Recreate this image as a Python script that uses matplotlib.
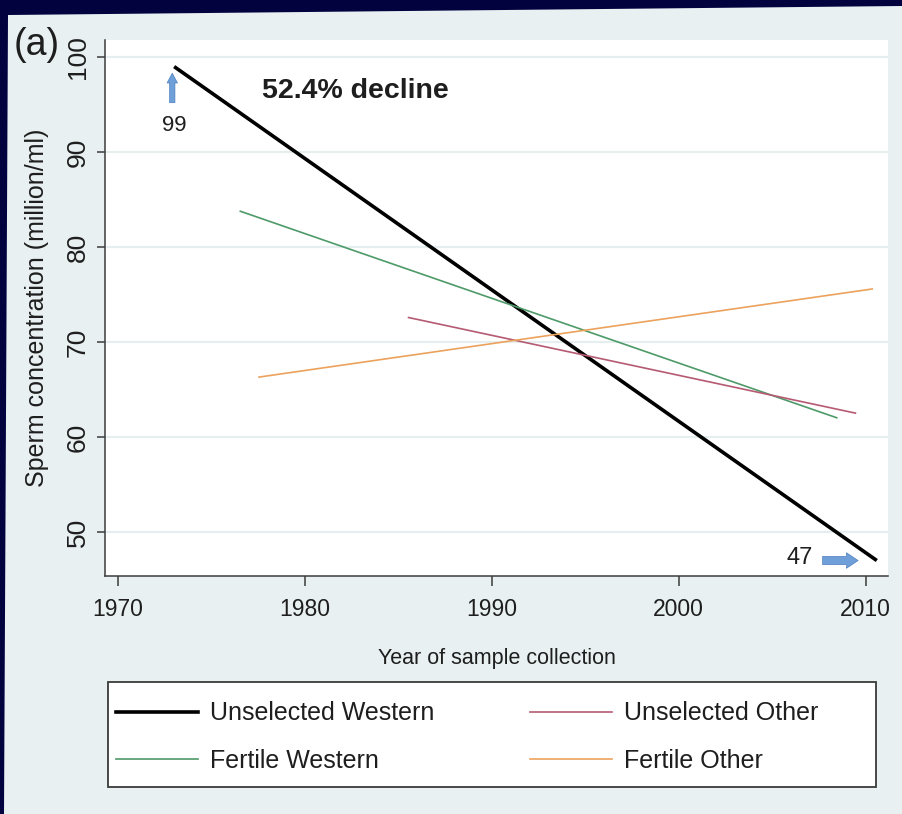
import matplotlib
matplotlib.use("Agg")
import matplotlib.pyplot as plt
from matplotlib import font_manager
from matplotlib.patches import Rectangle, Polygon
from matplotlib.lines import Line2D

# ── Data ──────────────────────────────────────────────────────────────────────
series_names = ["Unselected Western", "Fertile Western", "Unselected Other", "Fertile Other"]
series_years = [
    [1973.0, 2010.6],   # Unselected Western
    [1976.5, 2008.5],   # Fertile Western
    [1985.5, 2009.5],   # Unselected Other
    [1977.5, 2010.4],   # Fertile Other
]
series_conc = [
    [99.0, 47.0],
    [83.8, 62.0],
    [72.6, 62.5],
    [66.3, 75.6],
]
x_ticks = [1970, 1980, 1990, 2000, 2010]
y_ticks = [50, 60, 70, 80, 90, 100]
start_label = "99"
end_label = "47"
decline_label = "52.4% decline"

# ── Style ─────────────────────────────────────────────────────────────────────
colors = ["#000000", "#4e9a68", "#b55a72", "#eca25c"]
widths = [2.6, 1.2, 1.2, 1.2]
PANEL_BG = "#e8f0f2"
GRID_C = "#e6eef0"
TEXT_C = "#1e1e1e"
ARROW_C = "#6f9fd8"

W, H = 902, 814
installed = {f.name for f in font_manager.fontManager.ttflist}
if "Liberation Sans Narrow" in installed:
    HFONT = "Liberation Sans Narrow"
    xtick_fs, xlab_fs, leg_fs = 18.5, 19, 22
else:
    HFONT = "Liberation Sans"
    xtick_fs, xlab_fs, leg_fs = 16.5, 15.5, 18
VFONT = "Liberation Sans"
plt.rcParams["font.family"] = [VFONT, "DejaVu Sans"]

# ── Figure / axes ─────────────────────────────────────────────────────────────
fig = plt.figure(figsize=(W / 100, H / 100), dpi=100, facecolor=PANEL_BG)

# dark frame from the original screenshot (top and left only)
frame = Polygon([(0, 1), (1, 1), (1, 1 - 6 / H), (8 / W, 1 - 15 / H), (4 / W, 0), (0, 0)],
                closed=True, transform=fig.transFigure, facecolor="#02023f",
                edgecolor="none", zorder=-5)
fig.patches.append(frame)

ax_l, ax_r, ax_t, ax_b = 105, 888, 40, 576
ax = fig.add_axes([ax_l / W, 1 - ax_b / H, (ax_r - ax_l) / W, (ax_b - ax_t) / H])
ax.set_facecolor("white")

for yrs, conc, c, lw in zip(series_years, series_conc, colors, widths):
    ax.plot(yrs, conc, color=c, lw=lw, solid_capstyle="butt", zorder=3)

ax.set_xlim(1969.3, 2011.2)
ax.set_ylim(45.37, 101.8)
ax.set_xticks(x_ticks)
ax.set_yticks(y_ticks)
ax.yaxis.grid(True, color=GRID_C, lw=1.6, zorder=0)
ax.set_axisbelow(True)

for s in ["top", "right"]:
    ax.spines[s].set_visible(False)
for s in ["left", "bottom"]:
    ax.spines[s].set_color("#3c3c3c")
    ax.spines[s].set_linewidth(1.1)

ax.tick_params(axis="x", length=7, width=1.1, color="#3c3c3c", pad=9,
               labelsize=xtick_fs, labelcolor=TEXT_C)
ax.tick_params(axis="y", length=6, width=1.1, color="#3c3c3c", pad=5,
               labelsize=19, labelcolor=TEXT_C, labelrotation=90)
for lab in ax.get_xticklabels():
    lab.set_family([HFONT, "DejaVu Sans"])
for lab in ax.get_yticklabels():
    lab.set_va("center")

ax.set_xlabel("Year of sample collection", fontsize=xlab_fs, color=TEXT_C,
              family=[HFONT, "DejaVu Sans"], labelpad=19)
ax.set_ylabel("Sperm concentration (million/ml)", fontsize=18, color=TEXT_C, labelpad=12)

# ── Annotations ───────────────────────────────────────────────────────────────
ax.annotate("", xy=(1972.9, 98.3), xytext=(1972.9, 95.2),
            arrowprops=dict(arrowstyle="simple,head_width=0.75,head_length=0.7,tail_width=0.38",
                            mutation_scale=10, fc=ARROW_C, ec="#4f7fbf", lw=0.5,
                            shrinkA=0, shrinkB=0))
ax.text(1973.0, 92.8, start_label, ha="center", va="center", fontsize=16, color=TEXT_C)

ax.annotate("", xy=(2009.6, 47.0), xytext=(2007.7, 47.0),
            arrowprops=dict(arrowstyle="simple,head_width=0.8,head_length=0.6,tail_width=0.42",
                            mutation_scale=14, fc=ARROW_C, ec="#4f7fbf", lw=0.5,
                            shrinkA=0, shrinkB=0))
ax.text(2007.2, 47.3, end_label, ha="right", va="center", fontsize=17, color=TEXT_C)

ax.text(1977.7, 96.4, decline_label, ha="left", va="center", fontsize=20.5,
        fontweight="bold", color=TEXT_C)

fig.text(14 / W, 1 - 45 / H, "(a)", ha="left", va="center", fontsize=27,
         family=[HFONT, "DejaVu Sans"], color=TEXT_C)

# ── Legend ────────────────────────────────────────────────────────────────────
fig.patches.append(Rectangle((108 / W, 1 - 787 / H), (876 - 108) / W, (787 - 682) / H,
                             transform=fig.transFigure, facecolor="white",
                             edgecolor="#3a3a3a", lw=1.3, zorder=1))

order = [0, 1, 2, 3]
handles = [Line2D([], [], color=colors[i], lw=widths[i]) for i in order]
labels = [series_names[i] for i in order]
fig.legend(handles, labels, ncol=2, loc="center left",
           bbox_to_anchor=(116 / W, 1 - 737 / H), borderaxespad=0, borderpad=0,
           frameon=False, handlelength=82 / (leg_fs * 100 / 72),
           handletextpad=0.5, columnspacing=3.8, labelspacing=0.93,
           prop={"family": [HFONT, "DejaVu Sans"], "size": leg_fs},
           labelcolor=TEXT_C)

fig.savefig("out.png", dpi=100, facecolor=fig.get_facecolor())
